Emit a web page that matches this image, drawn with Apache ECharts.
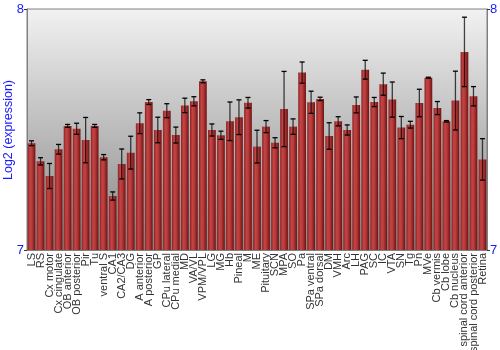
<!DOCTYPE html>
<html><head><meta charset="utf-8">
<script src="https://cdn.jsdelivr.net/npm/echarts@6/dist/echarts.min.js"></script>
<style>html,body{margin:0;padding:0;background:#fff}#c{width:500px;height:350px}</style>
</head><body><div id="c"></div>
<script>
const categories = ["LS","RS","Cx motor","Cx cingulate","OB anterior","OB posterior","Pir","Tu","ventral S","CA1","CA2/CA3","DG","A anterior","A posterior","GP","CPu lateral","CPu medial","MD","VA/VL","VPM/VPL","LG","MG","Hb","Pineal","M","ME","Pituitary","SCN","MPA","SO","Pa","SPa ventral","SPa dorsal","DM","VMH","Arc","LH","PAG","SC","IC","VTA","SN","Tg","Pn","MVe","Cb vermis","Cb lobe","Cb nucleus","spinal cord anterior","spinal cord posterior","Retina"];
const values = [7.443,7.368,7.307,7.418,7.515,7.503,7.456,7.515,7.385,7.224,7.357,7.404,7.526,7.614,7.498,7.578,7.477,7.600,7.617,7.700,7.498,7.476,7.534,7.551,7.611,7.429,7.512,7.445,7.585,7.512,7.736,7.613,7.627,7.473,7.534,7.498,7.602,7.748,7.614,7.688,7.624,7.508,7.520,7.610,7.715,7.589,7.534,7.620,7.822,7.638,7.376];
const errors = [0.010,0.015,0.052,0.020,0.006,0.023,0.094,0.006,0.011,0.017,0.062,0.068,0.043,0.010,0.053,0.029,0.033,0.030,0.019,0.006,0.025,0.017,0.080,0.072,0.022,0.068,0.025,0.021,0.156,0.032,0.044,0.046,0.007,0.055,0.019,0.021,0.033,0.039,0.019,0.046,0.073,0.046,0.014,0.057,0.002,0.027,0.003,0.122,0.144,0.040,0.086];
const yTicks = [7, 8];
const yTitle = 'Log2 (expression)';

const chart = echarts.init(document.getElementById('c'));
const errData = values.map((v,i)=>[i, v-errors[i], v+errors[i]]);
const font = 'Liberation Sans, Arial, sans-serif';
chart.setOption({
  animation:false,
  graphic:[{type:'text',x:9,y:130,rotation:Math.PI/2,
    style:{text:yTitle,fill:'#1a1aff',font:'12.5px Liberation Sans, Arial, sans-serif',align:'center',verticalAlign:'middle'}}],
  grid:{left:27,right:13,top:9,bottom:100,show:true,borderColor:'#808080',borderWidth:1,
    containLabel:false,outerBoundsMode:'none',
    backgroundColor:new echarts.graphic.LinearGradient(0,0,0,1,[{offset:0,color:'#f2f2f2'},{offset:1,color:'#858585'}])},
  xAxis:{type:'category',data:categories,
    axisLine:{lineStyle:{color:'#808080'}},axisTick:{show:false},
    axisLabel:{interval:0,rotate:90,color:'#333',fontSize:11,fontFamily:font,margin:3}},
  yAxis:[
    {type:'value',min:yTicks[0],max:yTicks[1],interval:1,
     axisLine:{show:true,lineStyle:{color:'#808080'}},axisTick:{show:true,length:3,lineStyle:{color:'#333'}},
     splitLine:{show:false},
     axisLabel:{color:'#1a1aff',fontSize:13,margin:3,fontFamily:font}},
    {type:'value',min:yTicks[0],max:yTicks[1],interval:1,position:'right',
     axisLine:{show:true,lineStyle:{color:'#808080'}},axisTick:{show:true,length:3,lineStyle:{color:'#333'}},
     splitLine:{show:false},
     axisLabel:{color:'#1a1aff',fontSize:13,margin:3,fontFamily:font}}
  ],
  series:[
    {type:'bar',data:values,barCategoryGap:'14%',
     itemStyle:{color:new echarts.graphic.LinearGradient(0,0,1,0,[
       {offset:0,color:'#8a2222'},{offset:0.3,color:'#c24444'},{offset:0.55,color:'#b83a3a'},{offset:1,color:'#6e1212'}])}},
    {type:'custom',data:errData,z:10,
     renderItem:function(params,api){
       const x=api.value(0);
       const lo=api.coord([x,api.value(1)]);
       const hi=api.coord([x,api.value(2)]);
       const cw=2.5;
       const st={stroke:'rgba(0,0,0,0.72)',lineWidth:1.3};
       return {type:'group',children:[
         {type:'line',shape:{x1:lo[0],y1:lo[1],x2:hi[0],y2:hi[1]},style:st},
         {type:'line',shape:{x1:lo[0]-cw,y1:lo[1],x2:lo[0]+cw,y2:lo[1]},style:{stroke:'#000',lineWidth:1.3}},
         {type:'line',shape:{x1:hi[0]-cw,y1:hi[1],x2:hi[0]+cw,y2:hi[1]},style:{stroke:'#000',lineWidth:1.3}}
       ]};
     }}
  ]
});
</script></body></html>
